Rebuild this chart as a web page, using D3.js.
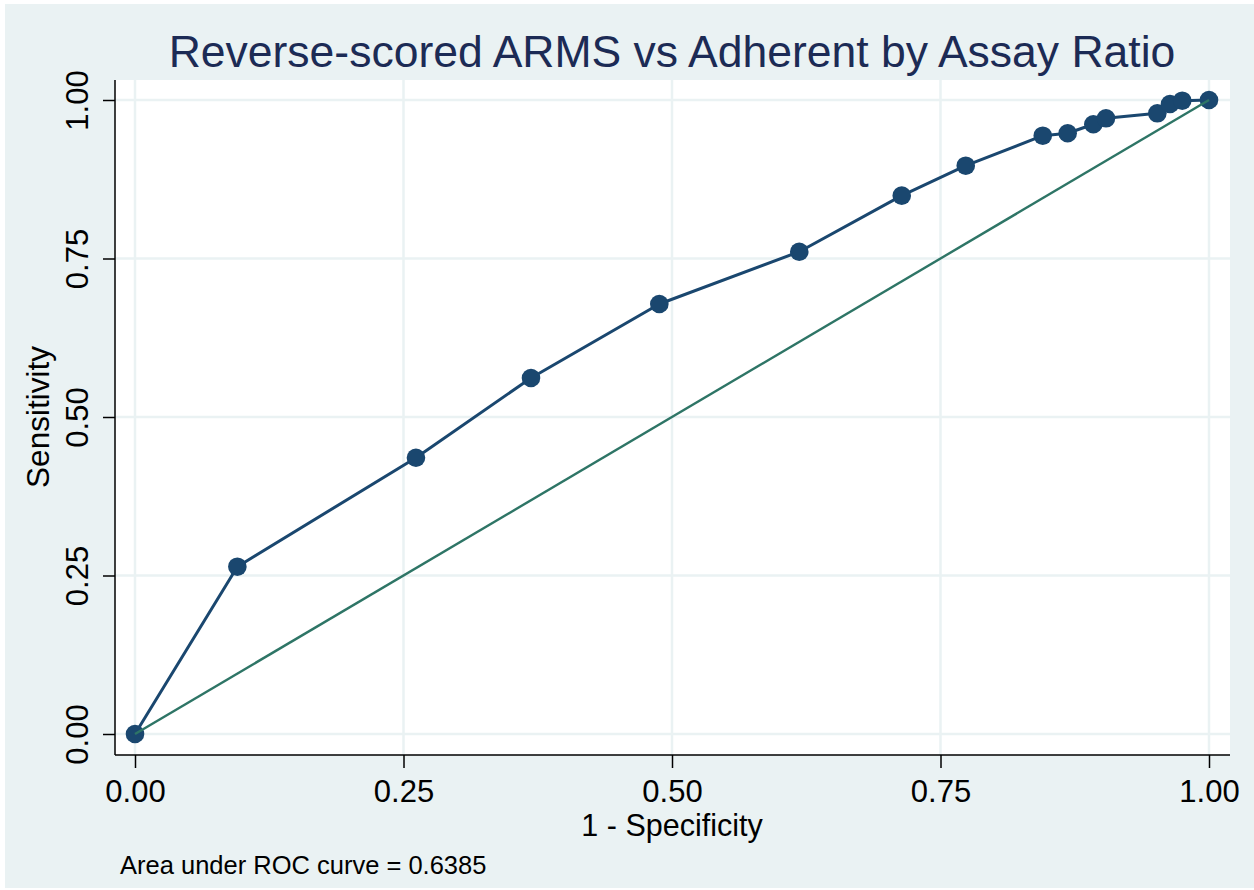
<!DOCTYPE html>
<html>
<head>
<meta charset="utf-8">
<script src="https://cdn.jsdelivr.net/npm/d3@7"></script>
<style>
  html, body { margin: 0; padding: 0; background: #ffffff; }
  svg { display: block; }
  text { font-family: "Liberation Sans", Arial, Helvetica, sans-serif; }
</style>
</head>
<body>
<svg id="chart" width="1254" height="890"></svg>
<script>
// ROC curve points: 1 - specificity (x) and sensitivity (y)
const falsePosRate = [0, 0.0953, 0.2616, 0.3687, 0.4882, 0.6185, 0.7139, 0.7735,
  0.8452, 0.8684, 0.8923, 0.9041, 0.9519, 0.9637, 0.9751, 1.0];
const sensitivity = [0, 0.2639, 0.4358, 0.5615, 0.6782, 0.7607, 0.8491, 0.8964,
  0.9437, 0.9475, 0.9617, 0.9711, 0.9790, 0.9937, 0.9989, 1.0];
// Tick values and labels shared by both axes
const tickValues = [0, 0.25, 0.5, 0.75, 1];
const tickLabels = ["0.00", "0.25", "0.50", "0.75", "1.00"];
// Reference diagonal
const diagonal = [[0, 0], [1, 1]];
const titleText = "Reverse-scored ARMS vs Adherent by Assay Ratio";
const xTitle = "1 - Specificity";
const yTitle = "Sensitivity";
const aucNote = "Area under ROC curve = 0.6385";

const svg = d3.select("#chart");
const W = 1254, H = 890;

// graph region background
svg.append("rect").attr("x", 5).attr("y", 4).attr("width", W - 5).attr("height", 884)
  .attr("fill", "#eaf2f3");

// plot region
const region = { left: 115, top: 80, right: 1230, bottom: 755 };
svg.append("rect")
  .attr("x", region.left).attr("y", region.top)
  .attr("width", region.right - region.left)
  .attr("height", region.bottom - region.top)
  .attr("fill", "#ffffff");

const x = d3.scaleLinear().domain([0, 1]).range([135, 1209]);
const y = d3.scaleLinear().domain([0, 1]).range([734, 100]);

// grid lines
const grid = svg.append("g").attr("stroke", "#eaf2f3").attr("stroke-width", 2.5);
tickValues.forEach(v => {
  grid.append("line").attr("x1", x(v)).attr("x2", x(v))
    .attr("y1", region.top).attr("y2", region.bottom);
  grid.append("line").attr("y1", y(v)).attr("y2", y(v))
    .attr("x1", region.left).attr("x2", region.right);
});

// axes
const fmt = (d, i) => tickLabels[i];
const xAxis = d3.axisBottom(x).tickValues(tickValues).tickFormat(fmt)
  .tickSizeInner(13).tickSizeOuter(0).tickPadding(8);
const yAxis = d3.axisLeft(y).tickValues(tickValues).tickFormat(fmt)
  .tickSizeInner(12).tickSizeOuter(0).tickPadding(6);

const gx = svg.append("g").attr("transform", `translate(0,${region.bottom})`).call(xAxis);
gx.select(".domain").remove();
gx.append("line").attr("x1", region.left).attr("x2", region.right)
  .attr("y1", 0).attr("y2", 0).attr("stroke", "#000").attr("stroke-width", 1.5);
gx.selectAll(".tick line").attr("stroke", "#000").attr("stroke-width", 1.5);
gx.selectAll(".tick text").attr("font-size", 31).attr("fill", "#000")
  .attr("font-family", "Liberation Sans, Arial, sans-serif")
  .attr("dy", null).attr("y", 47);

const gy = svg.append("g").attr("transform", `translate(${region.left},0)`).call(yAxis);
gy.select(".domain").remove();
gy.append("line").attr("x1", 0).attr("x2", 0)
  .attr("y1", region.top).attr("y2", region.bottom).attr("stroke", "#000").attr("stroke-width", 1.5);
gy.selectAll(".tick line").attr("stroke", "#000").attr("stroke-width", 1.5);
gy.selectAll(".tick text")
  .attr("font-size", 31).attr("fill", "#000")
  .attr("font-family", "Liberation Sans, Arial, sans-serif")
  .attr("x", null).attr("dy", null)
  .attr("text-anchor", "middle")
  .attr("transform", "translate(-27.5,0) rotate(-90)");

// ROC curve
const pts = falsePosRate.map((fx, i) => [fx, sensitivity[i]]);
const line = d3.line().x(d => x(d[0])).y(d => y(d[1]));
svg.append("path").datum(pts).attr("d", line)
  .attr("fill", "none").attr("stroke", "#1a476f").attr("stroke-width", 3)
  .attr("stroke-linejoin", "round");
svg.append("g").selectAll("circle").data(pts).join("circle")
  .attr("cx", d => x(d[0])).attr("cy", d => y(d[1])).attr("r", 9.3)
  .attr("fill", "#1a476f");

// reference line
svg.append("path").datum(diagonal).attr("d", line)
  .attr("fill", "none").attr("stroke", "#2e7566").attr("stroke-width", 2.4);

// titles
svg.append("text").attr("x", 672).attr("y", 67).attr("text-anchor", "middle")
  .attr("font-size", 44.5).attr("fill", "#1c2b55").text(titleText);
svg.append("text").attr("x", 672).attr("y", 836).attr("text-anchor", "middle")
  .attr("font-size", 30.5).attr("fill", "#000").text(xTitle);
svg.append("text").attr("transform", "translate(49,417) rotate(-90)")
  .attr("text-anchor", "middle").attr("font-size", 31.5).attr("fill", "#000").text(yTitle);
svg.append("text").attr("x", 120).attr("y", 874)
  .attr("font-size", 25.5).attr("fill", "#000").text(aucNote);
</script>
</body>
</html>
